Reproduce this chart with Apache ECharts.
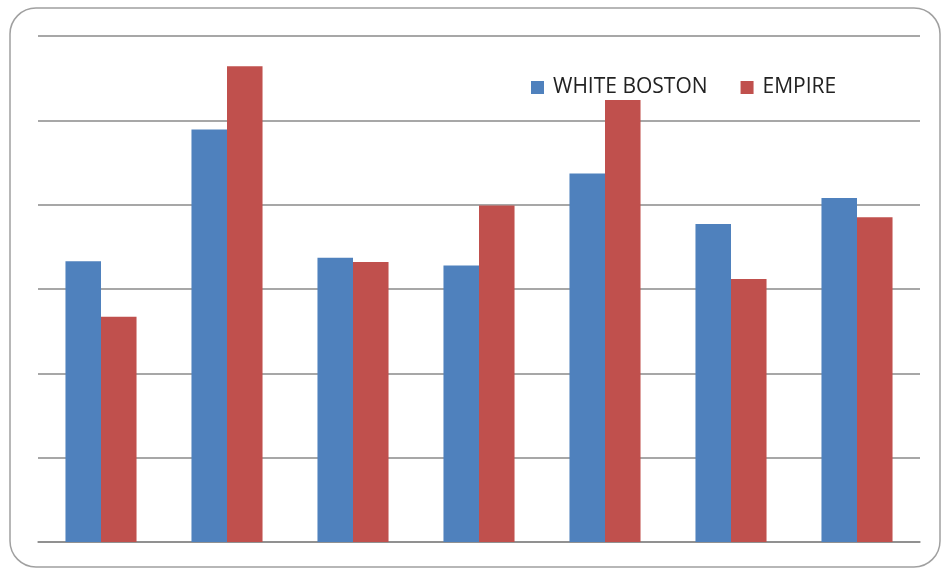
<!DOCTYPE html>
<html>
<head>
<meta charset="utf-8">
<script src="https://cdn.jsdelivr.net/npm/echarts@6/dist/echarts.min.js"></script>
<style>
  html, body { margin: 0; padding: 0; background: #ffffff; }
  #chart { width: 941px; height: 568px; }
</style>
</head>
<body>
<div id="chart"></div>
<script>
// Seven unlabelled groups, two series each
const categories = ['1', '2', '3', '4', '5', '6', '7'];
const whiteBoston = [3.33, 4.89, 3.37, 3.28, 4.37, 3.77, 4.08];
const empire = [2.67, 5.64, 3.32, 3.99, 5.24, 3.12, 3.85];
const seriesNames = ['WHITE BOSTON', 'EMPIRE'];

const chart = echarts.init(document.getElementById('chart'), null, { renderer: 'canvas' });

chart.setOption({
  animation: false,
  backgroundColor: '#ffffff',
  graphic: [{
    type: 'rect',
    z: -1,
    shape: { x: 10, y: 8, width: 930, height: 559, r: 26 },
    style: { fill: '#ffffff', stroke: '#a0a0a0', lineWidth: 1.5 }
  }],
  grid: { left: 38, top: 36, width: 882, height: 506, containLabel: false },
  legend: {
    data: seriesNames,
    left: 531,
    top: 77,
    padding: 0,
    itemWidth: 13,
    itemHeight: 13,
    itemGap: 33,
    icon: 'rect',
    textStyle: { fontFamily: 'Open Sans', fontSize: 21, color: '#222222', padding: [0, 0, 0, 4] }
  },
  xAxis: {
    type: 'category',
    data: categories,
    axisLine: { show: true, lineStyle: { color: '#8a8a8a', width: 1.5 } },
    axisTick: { show: false },
    axisLabel: { show: false }
  },
  yAxis: {
    type: 'value',
    min: 0,
    max: 6,
    interval: 1,
    axisLine: { show: false },
    axisTick: { show: false },
    axisLabel: { show: false },
    splitLine: { show: true, lineStyle: { color: '#8a8a8a', width: 1.5 } }
  },
  series: [
    {
      name: seriesNames[0],
      type: 'bar',
      data: whiteBoston,
      barWidth: '28.2%',
      barGap: '0%',
      itemStyle: { color: '#4F81BD' }
    },
    {
      name: seriesNames[1],
      type: 'bar',
      data: empire,
      barWidth: '28.2%',
      barGap: '0%',
      itemStyle: { color: '#C0504D' }
    }
  ]
});
</script>
</body>
</html>
